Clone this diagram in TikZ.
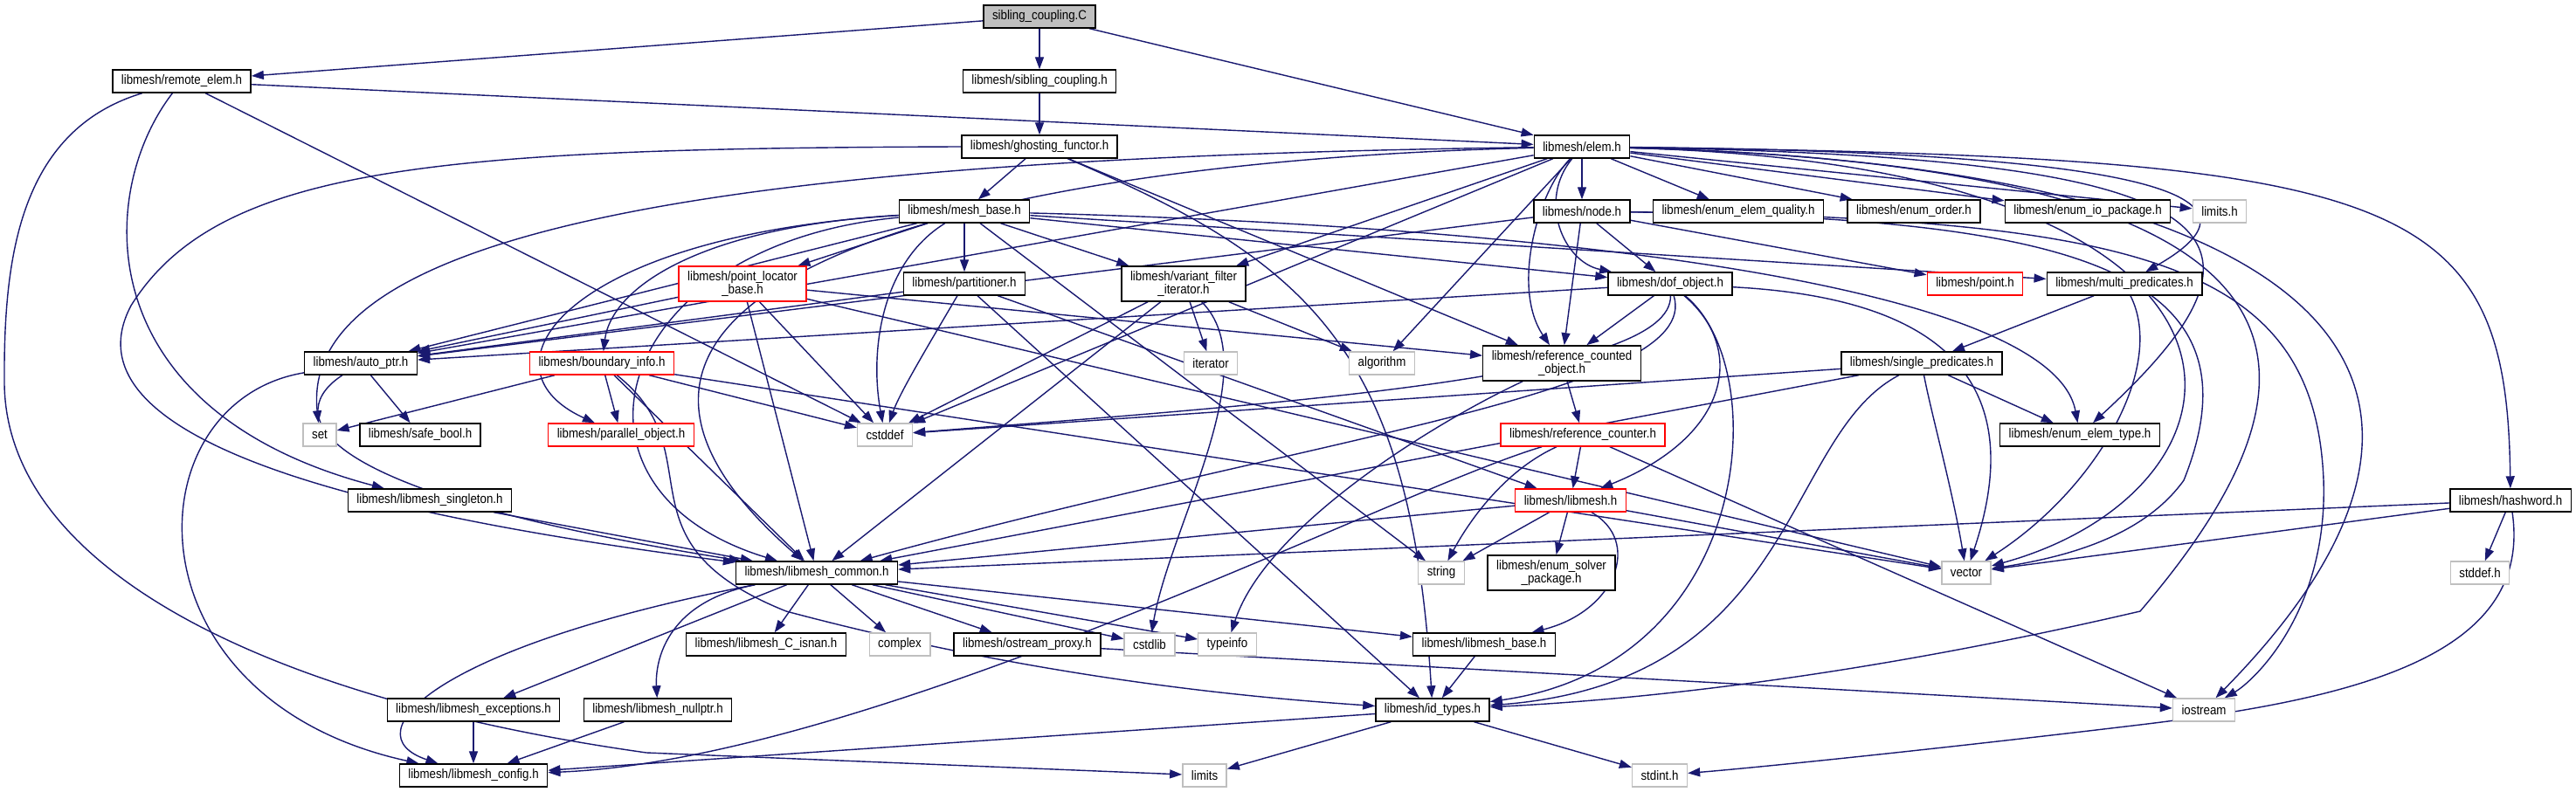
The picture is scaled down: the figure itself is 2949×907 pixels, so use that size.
\documentclass[tikz,border=0pt]{standalone}
\usepackage{fontspec}
\setmainfont{Liberation Sans}[FakeStretch=0.88]
\usetikzlibrary{arrows.meta,backgrounds}
\definecolor{midblue}{HTML}{191970}
\tikzset{
  hdr/.style={rectangle,draw=black,fill=white,line width=0.4pt,minimum height=0.26cm,inner xsep=0.1cm,inner ysep=0.055cm,align=center,font=\fontsize{4.3}{4.3}\selectfont},
  sys/.style={hdr,draw=gray!50},
  trunc/.style={hdr,draw=red},
  rootbox/.style={hdr,fill=gray!50},
  dep/.style={-{Triangle[length=0.14cm,width=0.1cm]},draw=midblue,line width=0.4pt},
}
\begin{document}
\begin{tikzpicture}[x=0.01cm,y=-0.01cm]
  \useasboundingbox (0,0) rectangle (2949,907);
  % rows from top to bottom
  \node[rootbox] (rootc) at (1190,19) {sibling\_coupling.C};
  \node[hdr] (remote) at (208,93) {libmesh/remote\_elem.h};
  \node[hdr] (sibh) at (1190,93) {libmesh/sibling\_coupling.h};
  \node[hdr] (ghost) at (1190,168) {libmesh/ghosting\_functor.h};
  \node[hdr] (elem) at (1811,168) {libmesh/elem.h};
  \node[hdr] (meshbase) at (1104,242) {libmesh/mesh\_base.h};
  \node[hdr] (nodeh) at (1811,242) {libmesh/node.h};
  \node[hdr] (equal) at (1990,242) {libmesh/enum\_elem\_quality.h};
  \node[hdr] (eorder) at (2191,242) {libmesh/enum\_order.h};
  \node[hdr] (eio) at (2390,242) {libmesh/enum\_io\_package.h};
  \node[sys] (limitsh) at (2541,242) {limits.h};
  \node[trunc] (ploc) at (850,325) {libmesh/point\_locator\\\_base.h};
  \node[hdr] (part) at (1104,325) {libmesh/partitioner.h};
  \node[hdr] (vfi) at (1355,325) {libmesh/variant\_filter\\\_iterator.h};
  \node[hdr] (dof) at (1912,325) {libmesh/dof\_object.h};
  \node[trunc] (pointh) at (2261,325) {libmesh/point.h};
  \node[hdr] (multi) at (2432,325) {libmesh/multi\_predicates.h};
  \node[hdr] (autoptr) at (413,416) {libmesh/auto\_ptr.h};
  \node[trunc] (binfo) at (689,416) {libmesh/boundary\_info.h};
  \node[sys] (iter) at (1386,416) {iterator};
  \node[sys] (algo) at (1582,416) {algorithm};
  \node[hdr] (rco) at (1788,416) {libmesh/reference\_counted\\\_object.h};
  \node[hdr] (single) at (2200,416) {libmesh/single\_predicates.h};
  \node[sys] (seth) at (366,498) {set};
  \node[hdr] (safebool) at (481,498) {libmesh/safe\_bool.h};
  \node[trunc] (pobj) at (711,498) {libmesh/parallel\_object.h};
  \node[sys] (cstddef) at (1013,498) {cstddef};
  \node[trunc] (refc) at (1812,498) {libmesh/reference\_counter.h};
  \node[hdr] (etype) at (2381,498) {libmesh/enum\_elem\_type.h};
  \node[hdr] (singleton) at (492,573) {libmesh/libmesh\_singleton.h};
  \node[trunc] (libmesh) at (1798,573) {libmesh/libmesh.h};
  \node[hdr] (hashword) at (2874,573) {libmesh/hashword.h};
  \node[hdr] (common) at (935,656) {libmesh/libmesh\_common.h};
  \node[sys] (stringh) at (1650,656) {string};
  \node[hdr] (esolver) at (1776,656) {libmesh/enum\_solver\\\_package.h};
  \node[sys] (vectorh) at (2251,656) {vector};
  \node[sys] (stddef) at (2839,656) {stddef.h};
  \node[hdr] (isnan) at (877,738) {libmesh/libmesh\_C\_isnan.h};
  \node[sys] (complex) at (1030,738) {complex};
  \node[hdr] (ostream) at (1176,738) {libmesh/ostream\_proxy.h};
  \node[sys] (cstdlib) at (1316,738) {cstdlib};
  \node[sys] (typeinfo) at (1405,738) {typeinfo};
  \node[hdr] (lmbase) at (1699,738) {libmesh/libmesh\_base.h};
  \node[hdr] (except) at (542,813) {libmesh/libmesh\_exceptions.h};
  \node[hdr] (nullptr) at (753,813) {libmesh/libmesh\_nullptr.h};
  \node[hdr] (idtypes) at (1640,813) {libmesh/id\_types.h};
  \node[sys] (iostream) at (2523,813) {iostream};
  \node[hdr] (config) at (542,888) {libmesh/libmesh\_config.h};
  \node[sys] (limits) at (1379,888) {limits};
  \node[sys] (stdint) at (1900,888) {stdint.h};

  \begin{scope}[on background layer]
  % sibling_coupling.C
  \draw[dep] (rootc) -- (remote);
  \draw[dep] (rootc) -- (sibh);
  \draw[dep] (rootc) -- (elem);
  \draw[dep] (sibh) -- (ghost);
  % remote_elem.h
  \draw[dep] (remote) -- (elem);
  \draw[dep] (remote) .. controls (110,220) and (100,470) .. (singleton);
  \draw[dep] (remote) -- (cstddef);
  \draw[dep] (remote) .. controls (20,150) and (4,300) .. (5,440) .. controls (8,650) and (300,800) .. (740,862) -- (limits);
  % ghosting_functor.h
  \draw[dep] (ghost) -- (meshbase);
  \draw[dep] (ghost.west) .. controls (500,170) and (250,190) .. (150,350) .. controls (60,520) and (500,600) .. (common);
  \draw[dep] (ghost) .. controls (1500,300) and (1615,400) .. (idtypes);
  \draw[dep] (ghost) -- (rco);
  % elem.h
  \draw[dep] (elem) -- (nodeh);
  \draw[dep] (elem) -- (equal);
  \draw[dep] (elem) -- (eorder);
  \draw[dep] (elem) -- (eio);
  \draw[dep] (elem) -- (limitsh);
  \draw[dep] (elem) .. controls (2750,180) and (2870,220) .. (hashword);
  \draw[dep] (elem) .. controls (2700,190) and (2880,450) .. (iostream);
  \draw[dep] (elem) .. controls (2650,190) and (2600,560) .. (vectorh);
  \draw[dep] (elem) .. controls (2680,190) and (2690,420) .. (2450,700) .. controls (2150,770) and (1900,800) .. (idtypes);
  \draw[dep] (elem) .. controls (2550,180) and (2640,260) .. (etype);
  \draw[dep] (elem) .. controls (2500,175) and (2600,230) .. (multi);
  \draw[dep] (elem) .. controls (1760,230) and (1790,300) .. (dof);
  \draw[dep] (elem) .. controls (1760,220) and (1730,330) .. (rco);
  \draw[dep] (elem) -- (vfi);
  \draw[dep] (elem) -- (algo);
  \draw[dep] (elem) -- (cstddef);
  \draw[dep] (elem) -- (autoptr);
  \draw[dep] (elem) .. controls (900,180) and (340,250) .. (seth);
  \draw[dep] (elem) .. controls (1100,185) and (560,330) .. (common);
  % mesh_base.h
  \draw[dep] (meshbase) -- (autoptr);
  \draw[dep] (meshbase) .. controls (800,260) and (700,330) .. (binfo);
  \draw[dep] (meshbase) -- (dof);
  \draw[dep] (meshbase) .. controls (1800,260) and (2350,330) .. (etype);
  \draw[dep] (meshbase) .. controls (700,280) and (620,560) .. (common);
  \draw[dep] (meshbase) -- (multi);
  \draw[dep] (meshbase) -- (part);
  \draw[dep] (meshbase) -- (ploc);
  \draw[dep] (meshbase) -- (vfi);
  \draw[dep] (meshbase) .. controls (650,270) and (540,420) .. (pobj);
  \draw[dep] (meshbase) .. controls (1010,300) and (995,400) .. (cstddef);
  \draw[dep] (meshbase) -- (stringh);
  % node.h
  \draw[dep] (nodeh) -- (pointh);
  \draw[dep] (nodeh) -- (dof);
  \draw[dep] (nodeh) -- (rco);
  \draw[dep] (nodeh) -- (autoptr);
  \draw[dep] (nodeh) .. controls (2450,250) and (2650,300) .. (2660,550) .. controls (2665,700) and (2580,780) .. (iostream);
  \draw[dep] (nodeh) .. controls (2350,250) and (2600,300) .. (2500,550) .. controls (2450,620) and (2350,640) .. (vectorh);
  % dof_object.h
  \draw[dep] (dof) -- (autoptr);
  \draw[dep] (dof) -- (rco);
  \draw[dep] (dof) .. controls (1915,430) and (1500,460) .. (cstddef);
  \draw[dep] (dof) .. controls (1950,450) and (1500,500) .. (common);
  \draw[dep] (dof) .. controls (2000,400) and (1980,500) .. (libmesh);
  \draw[dep] (dof) .. controls (2030,420) and (2010,760) .. (idtypes);
  \draw[dep] (dof) .. controls (2200,340) and (2330,420) .. (vectorh);
  % point_locator_base.h
  \draw[dep] (ploc) -- (autoptr);
  \draw[dep] (ploc) -- (common);
  \draw[dep] (ploc) -- (cstddef);
  \draw[dep] (ploc) -- (rco);
  \draw[dep] (ploc) -- (vectorh);
  % partitioner.h
  \draw[dep] (part) -- (autoptr);
  \draw[dep] (part) .. controls (1060,400) and (1030,450) .. (cstddef);
  \draw[dep] (part) -- (idtypes);
  \draw[dep] (part) -- (libmesh);
  % variant_filter_iterator.h
  \draw[dep] (vfi) -- (cstddef);
  \draw[dep] (vfi) -- (common);
  \draw[dep] (vfi) -- (iter);
  \draw[dep] (vfi) .. controls (1450,420) and (1340,600) .. (cstdlib);
  \draw[dep] (vfi) -- (algo);
  % boundary_info.h
  \draw[dep] (binfo) -- (seth);
  \draw[dep] (binfo) -- (pobj);
  \draw[dep] (binfo) -- (cstddef);
  \draw[dep] (binfo) -- (vectorh);
  \draw[dep] (binfo) -- (common);
  \draw[dep] (binfo) .. controls (820,520) and (700,620) .. (900,700) .. controls (1200,780) and (1450,800) .. (idtypes);
  % auto_ptr.h
  \draw[dep] (autoptr) .. controls (150,460) and (140,800) .. (config);
  \draw[dep] (autoptr) .. controls (330,470) and (330,560) .. (common);
  \draw[dep] (autoptr) -- (safebool);
  % reference counting
  \draw[dep] (rco) -- (refc);
  \draw[dep] (rco) .. controls (1650,480) and (1450,600) .. (typeinfo);
  \draw[dep] (singleton) -- (common);
  \draw[dep] (refc) .. controls (1600,560) and (1000,870) .. (config);
  \draw[dep] (refc) .. controls (1720,540) and (1680,600) .. (stringh);
  \draw[dep] (refc) -- (libmesh);
  \draw[dep] (refc) -- (iostream);
  % libmesh.h
  \draw[dep] (libmesh) -- (common);
  \draw[dep] (libmesh) -- (stringh);
  \draw[dep] (libmesh) -- (esolver);
  \draw[dep] (libmesh) .. controls (1880,620) and (1850,700) .. (lmbase);
  \draw[dep] (libmesh) -- (vectorh);
  % predicates
  \draw[dep] (single) -- (cstddef);
  \draw[dep] (single) -- (common);
  \draw[dep] (single) .. controls (2040,500) and (2060,780) .. (idtypes);
  \draw[dep] (single) .. controls (2210,470) and (2235,560) .. (vectorh);
  \draw[dep] (single) -- (etype);
  \draw[dep] (multi) -- (single);
  \draw[dep] (multi) .. controls (2480,420) and (2400,560) .. (vectorh);
  % hashword.h
  \draw[dep] (hashword) -- (common);
  \draw[dep] (hashword) -- (vectorh);
  \draw[dep] (hashword) -- (stddef);
  \draw[dep] (hashword) .. controls (2900,750) and (2700,800) .. (2450,830) .. controls (2200,860) and (2000,880) .. (stdint);
  % libmesh_common.h
  \draw[dep] (common) -- (except);
  \draw[dep] (common) .. controls (760,690) and (750,760) .. (nullptr);
  \draw[dep] (common) .. controls (500,740) and (400,840) .. (config);
  \draw[dep] (common) -- (isnan);
  \draw[dep] (common) -- (complex);
  \draw[dep] (common) -- (ostream);
  \draw[dep] (common) -- (cstdlib);
  \draw[dep] (common) -- (typeinfo);
  \draw[dep] (common) -- (lmbase);
  % bottom rows
  \draw[dep] (ostream) -- (iostream);
  \draw[dep] (except) -- (config);
  \draw[dep] (nullptr) -- (config);
  \draw[dep] (lmbase) -- (idtypes);
  \draw[dep] (idtypes) -- (config);
  \draw[dep] (idtypes) -- (limits);
  \draw[dep] (idtypes) -- (stdint);
  \end{scope}
\end{tikzpicture}
\end{document}
